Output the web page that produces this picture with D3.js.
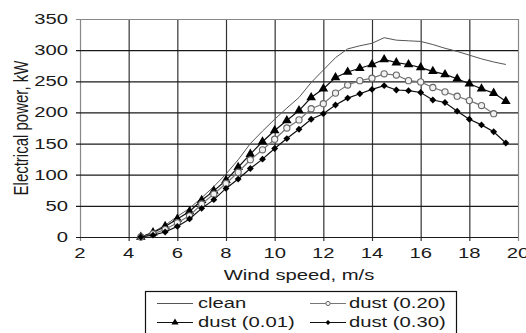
<!DOCTYPE html>
<html>
<head>
<meta charset="utf-8">
<script src="https://cdn.jsdelivr.net/npm/d3@7"></script>
<style>
  body { margin: 0; background: #fff; }
  svg { display: block; }
  text { font-family: "Liberation Sans", Arial, sans-serif; fill: #1a1a1a; }
</style>
</head>
<body>
<script>
var w = 526;
var h = 333;
var margin = {top: 19, right: 8, bottom: 96, left: 80};
var stretch = 1.35; // the source figure is drawn wide

// wind speed, m/s
var windSpeed = [4.5, 5, 5.5, 6, 6.5, 7, 7.5, 8, 8.5, 9, 9.5, 10, 10.5, 11, 11.5, 12,
                 12.5, 13, 13.5, 14, 14.5, 15, 15.5, 16, 16.5, 17, 17.5, 18, 18.5, 19, 19.5];

// electrical power, kW
var clean = [0, 8, 19, 33, 46, 63, 81, 101, 124, 150, 170, 189, 207, 224, 248, 268,
             288, 302, 307, 311, 320, 316, 315, 314, 309, 303, 298, 292, 286, 281, 277];
var dust001 = [0, 7, 17, 29, 41, 59, 74, 91, 112, 133, 153, 171, 187, 203, 224, 238,
               256, 265, 271, 277, 285, 280, 277, 272, 266, 261, 254, 246, 238, 231, 218];
var dust020 = [0, 5, 12, 23, 34, 53, 69, 86, 104, 124, 140, 157, 175, 188, 206, 214,
               231, 244, 251, 255, 262, 260, 251, 249, 240, 233, 226, 219, 211, 198];
var dust030 = [0, 3, 8, 17, 29, 46, 60, 78, 93, 110, 125, 142, 158, 173, 189, 198,
               212, 223, 230, 237, 243, 236, 235, 232, 220, 216, 202, 189, 180, 169, 151];

var xTicks = [2, 4, 6, 8, 10, 12, 14, 16, 18, 20];
var yTicks = [0, 50, 100, 150, 200, 250, 300, 350];

var series = [
  {name: "clean", values: clean, color: "#555", marker: null},
  {name: "dust (0.01)", values: dust001, color: "#111", marker: "triangle"},
  {name: "dust (0.20)", values: dust020, color: "#777", marker: "circle"},
  {name: "dust (0.30)", values: dust030, color: "#111", marker: "diamond"}
];

var x = d3.scaleLinear().domain([2, 20]).range([margin.left, w - margin.right]);
var y = d3.scaleLinear().domain([0, 350]).range([h - margin.bottom, margin.top]);

var svg = d3.select("body")
      .append("svg")
      .attr("width", w)
      .attr("height", h);

function wideText(g, tx, ty, str, anchor, size) {
  return g.append("text")
    .attr("transform", "translate(" + tx + "," + ty + ") scale(" + stretch + ",1)")
    .attr("text-anchor", anchor)
    .attr("font-size", size)
    .text(str);
}

// grid + ticks
var plotW = x(20) - x(2);
var plotH = y(0) - y(350);

svg.append("g")
   .attr("transform", "translate(0," + y(0) + ")")
   .call(d3.axisBottom(x).tickValues(xTicks).tickSizeInner(-plotH).tickSizeOuter(0).tickFormat(""))
   .call(function(g) {
     g.select(".domain").remove();
     g.selectAll(".tick line")
      .attr("y1", 4)
      .attr("stroke", function(d) { return (d === 2 || d === 20) ? "#888" : "#333"; })
      .attr("stroke-width", 1.2);
   });

svg.append("g")
   .attr("transform", "translate(" + x(2) + ",0)")
   .call(d3.axisLeft(y).tickValues(yTicks).tickSizeInner(-plotW).tickSizeOuter(0).tickFormat(""))
   .call(function(g) {
     g.select(".domain").remove();
     g.selectAll(".tick line")
      .attr("x1", -4)
      .attr("stroke", function(d) { return d === 350 ? "#888" : "#1a1a1a"; })
      .attr("stroke-width", 1.2);
   });

// tick labels
var labels = svg.append("g");
xTicks.forEach(function(t) {
  wideText(labels, x(t), y(0) + 21, t, "middle", 15);
});
yTicks.forEach(function(t) {
  wideText(labels, x(2) - 12, y(t) + 5, t, "end", 15);
});

wideText(labels, (x(2) + x(20)) / 2, 280, "Wind speed, m/s", "middle", 15);

labels.append("text")
   .attr("transform", "translate(27.5," + ((y(0) + y(350)) / 2) + ") scale(" + stretch + ",1) rotate(-90)")
   .attr("text-anchor", "middle")
   .attr("font-size", 15)
   .text("Electrical power, kW");

// lines
var line = d3.line()
    .x(function(d) { return x(d[0]); })
    .y(function(d) { return y(d[1]); });

function symbolFor(kind, big) {
  var type = kind === "triangle" ? d3.symbolTriangle
           : kind === "circle" ? d3.symbolCircle
           : d3.symbolDiamond2;
  var size = kind === "triangle" ? (big ? 40 : 22)
           : kind === "circle" ? (big ? 30 : 14)
           : (big ? 30 : 16);
  return d3.symbol().type(type).size(size)();
}

series.forEach(function(s) {
  var pts = s.values.map(function(v, i) { return [windSpeed[i], v]; });
  svg.append("path")
     .datum(pts)
     .attr("fill", "none")
     .attr("stroke", s.color)
     .attr("stroke-width", s.marker ? 1.2 : 1)
     .attr("d", line);

  if (s.marker) {
    svg.append("g")
       .selectAll("path")
       .data(pts)
       .enter()
       .append("path")
       .attr("transform", function(d) { return "translate(" + x(d[0]) + "," + y(d[1]) + ")"; })
       .attr("d", symbolFor(s.marker, true))
       .attr("fill", s.marker === "circle" ? "#f2f2f2" : "#000")
       .attr("stroke", s.marker === "circle" ? "#666" : "none")
       .attr("stroke-width", 1.1);
  }
});

// legend
var legend = svg.append("g");
legend.append("rect")
   .attr("x", 145.5)
   .attr("y", 291.5)
   .attr("width", 311)
   .attr("height", 43)
   .attr("fill", "none")
   .attr("stroke", "#111")
   .attr("stroke-width", 1.2);

var legendPos = [
  {sx: 157, tx: 198, ty: 308},  // clean
  {sx: 157, tx: 198, ty: 327},  // dust 0.01
  {sx: 310, tx: 349, ty: 308},  // dust 0.20
  {sx: 310, tx: 349, ty: 327}   // dust 0.30
];

series.forEach(function(s, i) {
  var p = legendPos[i];
  var ly = p.ty - 4.5;
  legend.append("line")
     .attr("x1", p.sx).attr("x2", p.sx + 36)
     .attr("y1", ly).attr("y2", ly)
     .attr("stroke", s.color)
     .attr("stroke-width", 1.2);
  if (s.marker) {
    legend.append("path")
       .attr("transform", "translate(" + (p.sx + 18) + "," + ly + ")")
       .attr("d", symbolFor(s.marker, false))
       .attr("fill", s.marker === "circle" ? "#f2f2f2" : "#000")
       .attr("stroke", s.marker === "circle" ? "#666" : "none");
  }
  wideText(legend, p.tx, p.ty, s.name, "start", 15);
});
</script>
</body>
</html>
